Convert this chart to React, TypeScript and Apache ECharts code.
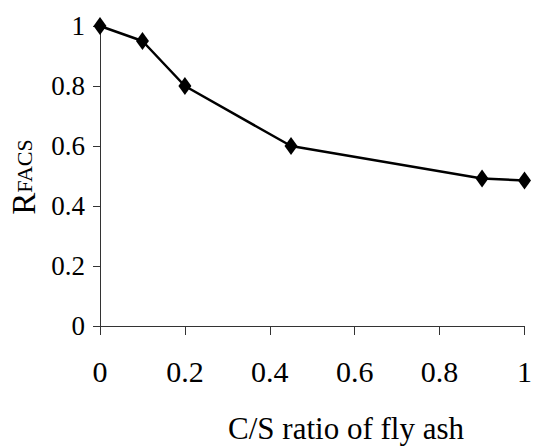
import React, { useEffect, useRef } from "react";
import * as echarts from "echarts";

const csRatio = [0, 0.1, 0.2, 0.45, 0.9, 1];
const rfacs = [1, 0.95, 0.8, 0.6, 0.492, 0.485];
const xTicks = [0, 0.2, 0.4, 0.6, 0.8, 1];
const yTicks = [0, 0.2, 0.4, 0.6, 0.8, 1];
const xTitle = "C/S ratio of fly ash";

export default function App() {
  const ref = useRef<HTMLDivElement>(null);
  useEffect(() => {
    if (!ref.current) return;
    const chart = echarts.init(ref.current, null, { renderer: "svg" });
    const font = "'Liberation Serif', 'DejaVu Serif', serif";
    chart.setOption({
      animation: false,
      backgroundColor: "#fff",
      grid: { left: 100, right: 7, top: 26, bottom: 121, containLabel: false },
      xAxis: {
        type: "value",
        min: xTicks[0],
        max: xTicks[xTicks.length - 1],
        interval: 0.2,
        axisLine: { lineStyle: { color: "#333", width: 1 } },
        axisTick: { show: true, inside: false, length: 9, lineStyle: { color: "#333" } },
        splitLine: { show: false },
        axisLabel: {
          margin: 30,
          fontFamily: font,
          fontSize: 30,
          color: "#000",
          formatter: (v: number) => String(Math.round(v * 10) / 10),
        },
      },
      yAxis: {
        type: "value",
        min: yTicks[0],
        max: yTicks[yTicks.length - 1],
        interval: 0.2,
        axisLine: { show: true, lineStyle: { color: "#333", width: 1 } },
        axisTick: { show: true, inside: false, length: 7, lineStyle: { color: "#333" } },
        splitLine: { show: false },
        axisLabel: {
          margin: 15,
          fontFamily: font,
          fontSize: 27,
          color: "#000",
          formatter: (v: number) => String(Math.round(v * 10) / 10),
        },
      },
      series: [
        {
          type: "line",
          data: csRatio.map((x, i) => [x, rfacs[i]]),
          symbol: "diamond",
          symbolSize: [13, 18],
          lineStyle: { color: "#000", width: 2.5 },
          itemStyle: { color: "#000" },
          clip: false,
        },
      ],
      graphic: [
        {
          type: "text",
          x: 346,
          y: 428,
          style: {
            text: xTitle,
            font: `31px ${font}`,
            fill: "#000",
            align: "center",
            verticalAlign: "middle",
          },
        },
        {
          type: "text",
          x: 24,
          y: 177,
          rotation: Math.PI / 2,
          style: {
            text: "{a|R}{b|FACS}",
            rich: {
              a: { fontFamily: font, fontSize: 33, fill: "#000" },
              b: { fontFamily: font, fontSize: 22, fill: "#000" },
            },
            fill: "#000",
            align: "center",
            verticalAlign: "middle",
          },
        },
      ],
    });
    return () => chart.dispose();
  }, []);
  return (
    <div
      ref={ref}
      style={{ position: "absolute", left: 0, top: 0, width: 535, height: 447 }}
    />
  );
}
